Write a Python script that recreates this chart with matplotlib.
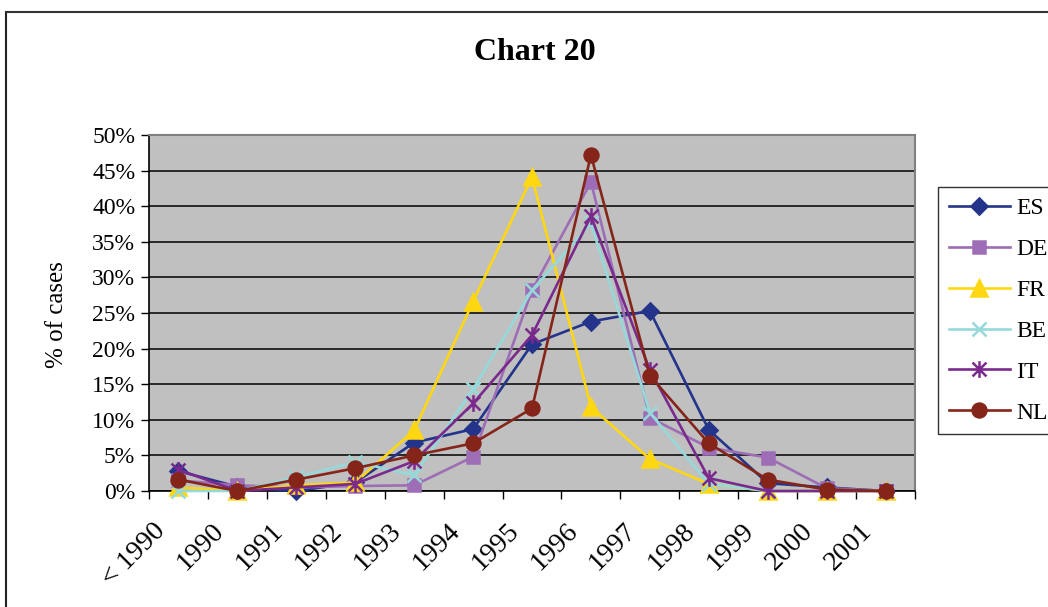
import matplotlib
matplotlib.use('Agg')
import matplotlib.pyplot as plt
import matplotlib.transforms as mtransforms
from matplotlib.path import Path
from matplotlib.lines import Line2D

plt.rcParams['font.family'] = ['Liberation Serif', 'DejaVu Serif']

# categories and % of cases per country
categories = ['< 1990', '1990', '1991', '1992', '1993', '1994', '1995',
              '1996', '1997', '1998', '1999', '2000', '2001']
es = [2.8, 0.6, 0.0, 1.2, 6.8, 8.7, 20.6, 23.8, 25.3, 8.6, 1.1, 0.5, 0.0]
de = [1.5, 0.8, 0.5, 0.7, 0.8, 4.8, 28.2, 43.4, 10.3, 6.1, 4.7, 0.4, 0.0]
fr = [0.5, 0.0, 0.8, 1.2, 8.5, 26.6, 44.1, 11.8, 4.5, 1.0, 0.0, 0.0, 0.0]
be = [0.0, 0.0, 1.9, 4.1, 2.2, 14.3, 28.2, 37.6, 11.0, 1.0, 0.0, 0.0, 0.0]
it = [3.0, 0.0, 0.5, 1.0, 4.2, 12.3, 21.9, 38.6, 17.0, 1.8, 0.0, 0.0, 0.0]
nl = [1.6, 0.0, 1.6, 3.2, 5.0, 6.7, 11.6, 47.2, 16.2, 6.7, 1.6, 0.2, 0.0]

# Excel style "star": an X with a vertical bar
star = Path([(-1, -1), (1, 1), (-1, 1), (1, -1), (0, -1.2), (0, 1.2)],
            [Path.MOVETO, Path.LINETO, Path.MOVETO, Path.LINETO, Path.MOVETO, Path.LINETO])

series = [
    ('ES', es, '#24348A', 'D', 8.5),
    ('DE', de, '#9D6DB5', 's', 9),
    ('FR', fr, '#FFD711', '^', 11),
    ('BE', be, '#96D9DA', 'x', 10),
    ('IT', it, '#7A2A8C', star, 12),
    ('NL', nl, '#85251A', 'o', 10),
]

fig = plt.figure(figsize=(10.48, 6.07), dpi=100)
ax = fig.add_axes([0.1422, 0.1911, 0.7309, 0.5865])
ax.set_facecolor('#C0C0C0')

x = list(range(len(categories)))
for name, vals, color, marker, ms in series:
    ax.plot(x, vals, color=color, lw=1.9, marker=marker, markersize=ms,
            markerfacecolor=color, markeredgecolor=color, markeredgewidth=1.8,
            label=name, clip_on=False, zorder=3)

ax.set_xlim(-0.5, len(categories) - 0.5)
ax.set_ylim(0, 50)
ax.set_yticks(range(0, 51, 5))
ax.set_yticklabels([f'{v}%' for v in range(0, 51, 5)], fontsize=17)
ax.yaxis.grid(True, color='black', lw=1.1)
ax.set_axisbelow(True)

ax.set_xticks(x)
ax.set_xticks([i - 0.5 for i in range(len(categories) + 1)], minor=True)
ax.set_xticklabels(categories, fontsize=20, rotation=45, ha='right',
                   rotation_mode='anchor')
ax.tick_params(axis='x', which='major', length=0, pad=20)
ax.tick_params(axis='x', which='minor', length=6, width=1, direction='out')
ax.tick_params(axis='y', length=6, width=1, direction='out', pad=4)
offset = mtransforms.ScaledTranslation(-0.26, 0, fig.dpi_scale_trans)
for lab in ax.get_xticklabels():
    lab.set_transform(lab.get_transform() + offset)

for side in ['top', 'right']:
    ax.spines[side].set_color('#808080')
    ax.spines[side].set_linewidth(1.5)
for side in ['left', 'bottom']:
    ax.spines[side].set_color('black')
    ax.spines[side].set_linewidth(1.2)

fig.text(535 / 1048, 1 - 52 / 607, 'Chart 20', fontsize=23, fontweight='bold',
         ha='center', va='center')
fig.text(57 / 1048, 1 - 315 / 607, '% of cases', fontsize=18, rotation=90,
         ha='center', va='center')

leg = fig.legend(loc='upper left', bbox_to_anchor=(938 / 1048, 1 - 187 / 607),
                 fontsize=17, frameon=True, fancybox=False, edgecolor='black',
                 handlelength=2.6, handletextpad=0.25, labelspacing=0.82,
                 borderpad=0.45, borderaxespad=0)
leg.get_frame().set_linewidth(1.0)

# chart area border (top and left visible)
fig.add_artist(Line2D([6 / 1048, 6 / 1048], [0, 1 - 12 / 607], color='#222222',
                      lw=1.5, transform=fig.transFigure))
fig.add_artist(Line2D([6 / 1048, 1], [1 - 12 / 607, 1 - 12 / 607], color='#333333',
                      lw=1.5, transform=fig.transFigure))

fig.savefig('out.png', dpi=100)
